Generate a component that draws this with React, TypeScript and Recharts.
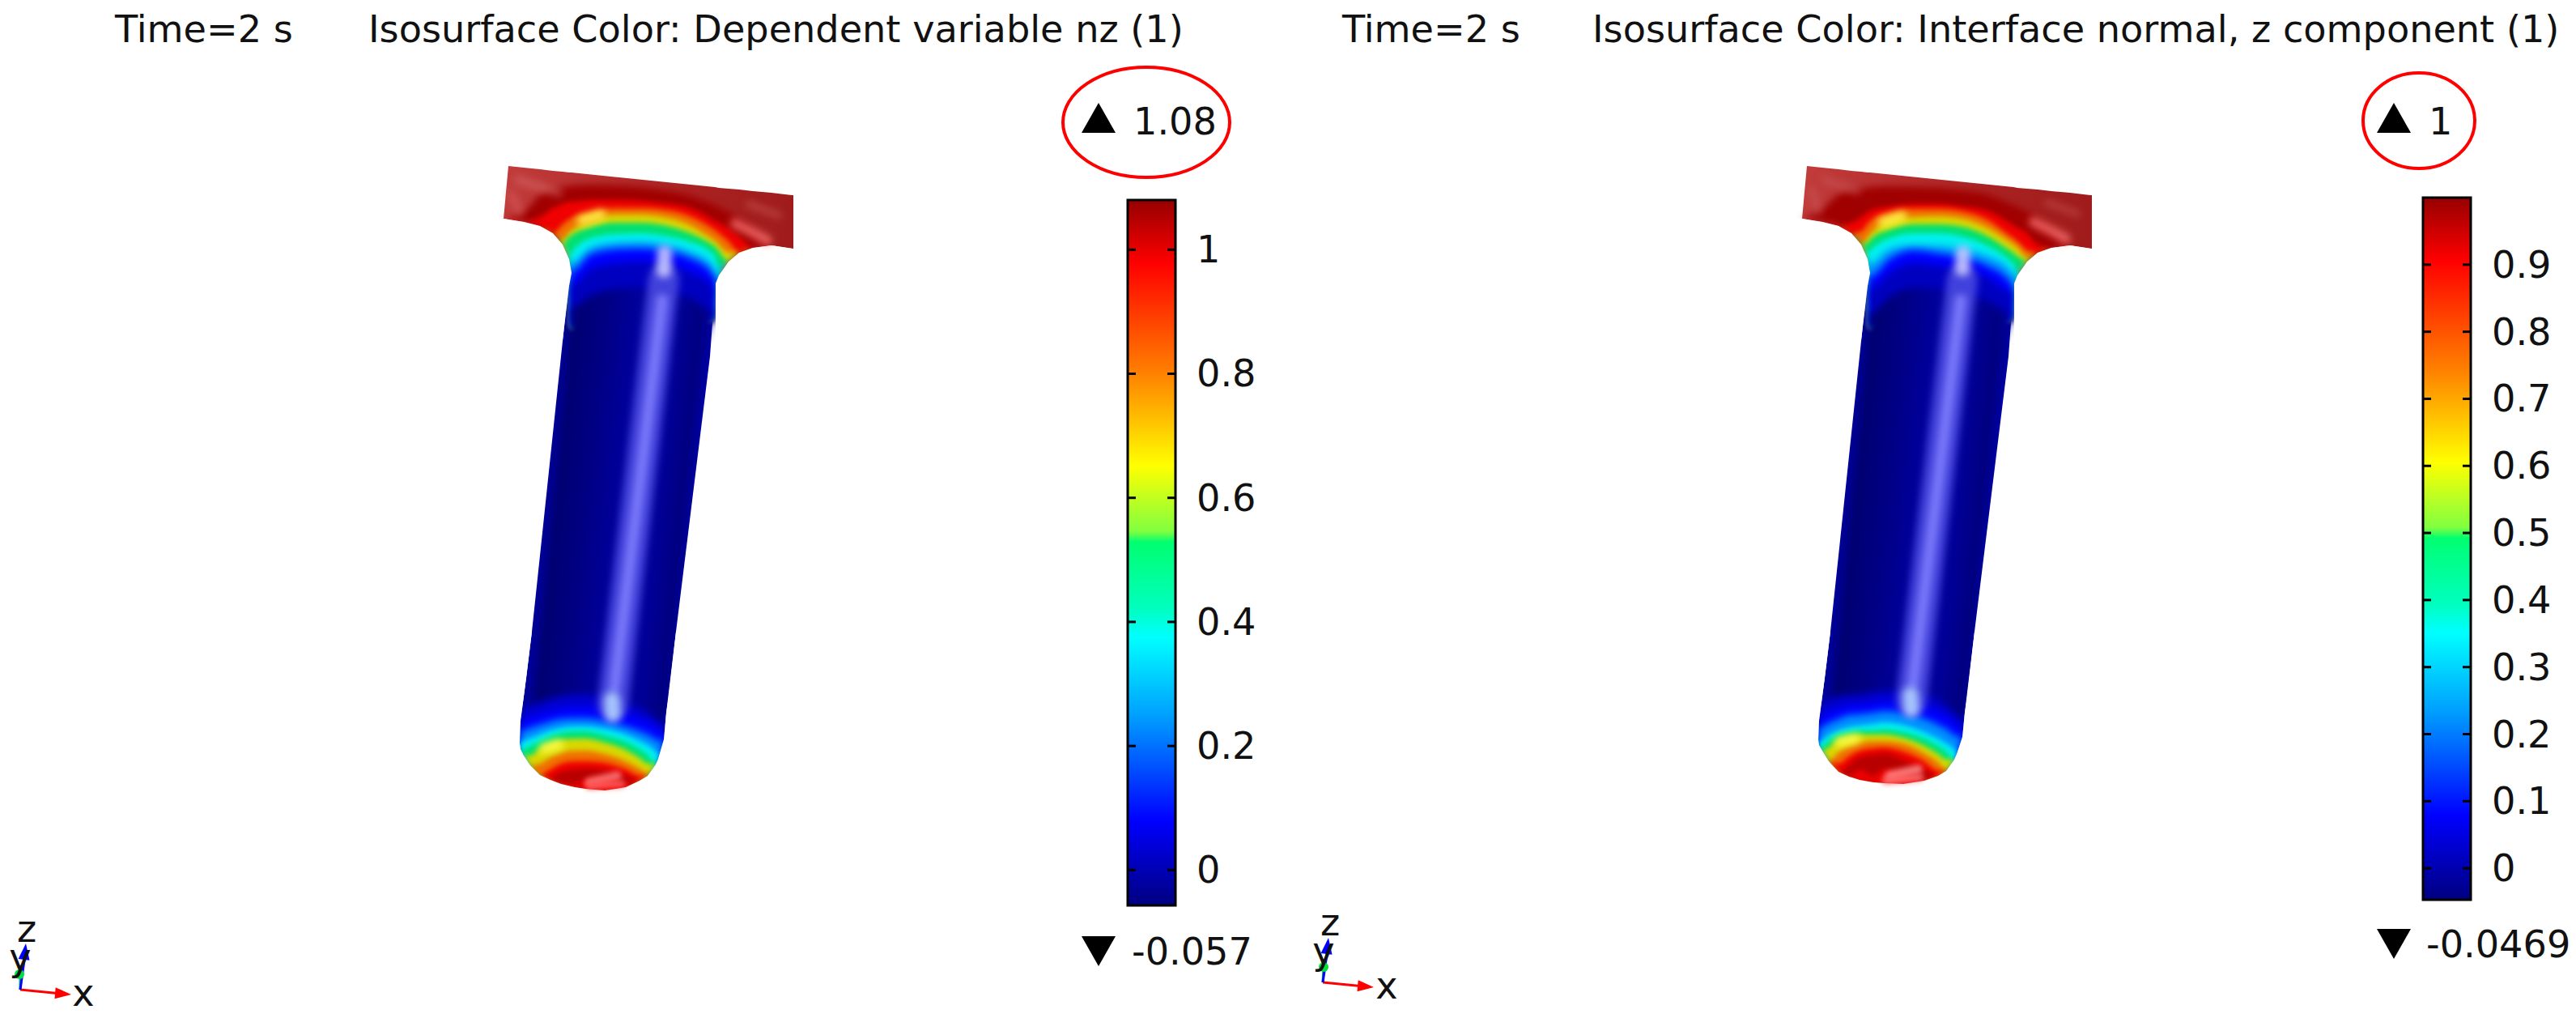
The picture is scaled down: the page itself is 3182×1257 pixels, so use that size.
import React from 'react';
import { Area, Bar, BarChart, ComposedChart, Line, Scatter, XAxis, YAxis } from 'recharts';

const FONT = '"DejaVu Sans", sans-serif';
const TEXT_SIZE = 46.2;

// colour scale, fraction from the top of the bar
const scaleStops = [
  [0, '#960000'], [0.09, '#ff0000'], [0.245, '#ff8000'], [0.377, '#ffff00'], [0.47, '#80ff40'],
  [0.485, '#00ff70'], [0.58, '#00ffc0'], [0.62, '#00ffff'], [0.73, '#00a0ff'], [0.88, '#0000ff'], [1, '#000080'],
] as const;

const ticksLeft = [0, 0.2, 0.4, 0.6, 0.8, 1];
const ticksRight = [0, 0.1, 0.2, 0.3, 0.4, 0.5, 0.6, 0.7, 0.8, 0.9];

// silhouette, panel pixels
const flangeX = [622, 628, 647, 667, 683, 695, 703, 706, 883, 888, 900, 913, 930, 953, 978, 980];
const flangeTop = [270, 205, 207, 209, 211, 212, 213, 213, 231, 232, 233, 234, 236, 238, 241, 241];
const flangeUnder = [270, 271, 274, 279, 288, 302, 320, 337, 357, 340, 323, 312, 306, 303, 307, 307];

const bodyX = [642, 643, 650, 657, 667, 680, 693, 698, 703, 706, 723, 747, 773, 790, 800, 813, 820, 823, 835, 877, 883];
const bodyTop = [917, 890, 837, 780, 686, 563, 440, 393, 353, 340, 340, 340, 340, 340, 340, 340, 340, 340, 340, 340, 340];
const bodyBottomL = [917, 925, 941, 950, 957, 963, 968, 969, 970, 971, 974, 976, 972, 964, 958, 937, 913, 880, 780, 440, 357];
const bodyBottomR = [913, 920, 934, 943, 953, 959, 963, 964, 965, 966, 967, 968, 964, 958, 952, 931, 910, 880, 780, 440, 357];

const neckX = [622, 647, 667, 683, 695, 703, 706, 730, 760, 790, 820, 850, 880, 883, 888, 900, 913, 930, 953, 980];
const neckFloor = [270, 274, 279, 288, 302, 320, 405, 383, 373, 371, 377, 387, 395, 357, 340, 323, 312, 306, 303, 307];
const neckFloorShade = [270, 274, 279, 288, 302, 320, 445, 445, 445, 445, 445, 445, 396, 357, 340, 323, 312, 306, 303, 307];

const neckColors = ['#a00000', '#f00000', '#f07000', '#d8d800', '#00e070', '#00f0f0', '#0090ff', '#0000ff', '#0000c0', 'url(#bodyShade)'];

const neckArcsL = [
  [280, 262, 241, 234, 231, 230, 229, 228, 229, 231, 235, 241, 252, 253, 256, 262, 271, 283, 302, 320],
  [290, 290, 268, 257, 252, 249, 249, 247, 247, 248, 251, 256, 271, 273, 275, 282, 292, 305, 320, 330],
  [300, 300, 300, 290, 277, 271, 269, 262, 257, 257, 259, 266, 282, 284, 288, 298, 311, 320, 320, 330],
  [310, 310, 310, 310, 296, 287, 284, 274, 265, 265, 268, 277, 295, 297, 302, 312, 325, 330, 330, 330],
  [320, 320, 320, 320, 305, 292, 290, 280, 275, 275, 278, 287, 302, 304, 310, 323, 330, 340, 340, 340],
  [330, 330, 330, 330, 330, 318, 312, 294, 289, 288, 291, 298, 313, 316, 330, 340, 340, 340, 340, 340],
  [350, 350, 350, 350, 350, 330, 325, 306, 300, 299, 302, 310, 328, 340, 350, 350, 350, 350, 350, 350],
  [360, 360, 360, 360, 360, 345, 336, 314, 308, 307, 310, 318, 338, 345, 360, 360, 360, 360, 360, 360],
  [380, 380, 380, 380, 380, 360, 352, 332, 325, 323, 327, 335, 353, 362, 380, 380, 380, 380, 380, 380],
  [410, 410, 410, 410, 410, 390, 380, 365, 357, 355, 360, 367, 383, 390, 410, 410, 410, 410, 410, 410],
];
const neckArcsR = [
  [280, 258, 240, 235, 233, 232, 231, 230, 231, 232, 235, 240, 252, 253, 256, 261, 270, 282, 302, 320],
  [295, 295, 285, 275, 268, 262, 260, 255, 252, 252, 255, 260, 276, 278, 281, 288, 302, 315, 320, 330],
  [305, 305, 305, 300, 286, 276, 273, 263, 258, 258, 261, 271, 292, 294, 298, 309, 320, 330, 330, 330],
  [310, 310, 310, 310, 302, 293, 289, 273, 268, 267, 270, 281, 300, 302, 306, 318, 330, 340, 340, 340],
  [320, 320, 320, 320, 320, 300, 296, 283, 277, 277, 280, 291, 310, 312, 316, 326, 340, 340, 340, 340],
  [330, 330, 330, 330, 330, 312, 309, 294, 288, 288, 292, 303, 323, 326, 336, 340, 340, 340, 340, 340],
  [350, 350, 350, 350, 350, 330, 326, 308, 303, 304, 308, 316, 335, 340, 350, 350, 350, 350, 350, 350],
  [360, 360, 360, 360, 360, 345, 342, 320, 309, 313, 318, 328, 350, 355, 360, 360, 360, 360, 360, 360],
  [380, 380, 380, 380, 380, 360, 356, 337, 325, 328, 333, 342, 360, 365, 380, 380, 380, 380, 380, 380],
  [410, 410, 410, 410, 410, 390, 387, 367, 355, 357, 362, 371, 387, 392, 410, 410, 410, 410, 410, 410],
];

const capX = [642, 643, 647, 655, 667, 680, 693, 710, 723, 747, 773, 790, 800, 810, 813, 820, 823];
const capFloorL = [917, 925, 933, 945, 957, 963, 968, 972, 974, 976, 972, 964, 958, 944, 937, 913, 880];
const capFloorR = [913, 920, 927, 940, 953, 959, 963, 966, 967, 968, 964, 958, 952, 938, 931, 910, 880];

const capColors = ['#0000d0', '#0000ff', '#0090ff', '#00f0f0', '#00e070', '#d8d800', '#f07000', '#f00000', '#b80000', '#ee0000'];

const capArcsL = [
  [917, 890, 874, 871, 867, 863, 860, 858, 858, 860, 867, 875, 880, 888, 890, 895, 900],
  [917, 892, 889, 886, 882, 878, 875, 873, 873, 875, 881, 887, 891, 897, 899, 905, 912],
  [917, 903, 902, 899, 895, 891, 888, 887, 887, 890, 897, 903, 907, 913, 915, 925, 930],
  [917, 917, 915, 912, 907, 902, 899, 897, 897, 900, 907, 915, 920, 928, 931, 945, 950],
  [930, 930, 925, 921, 915, 909, 905, 903, 903, 908, 916, 925, 932, 942, 945, 960, 960],
  [945, 945, 942, 933, 924, 918, 914, 912, 912, 917, 926, 936, 943, 953, 956, 970, 970],
  [975, 975, 970, 955, 943, 935, 930, 927, 927, 931, 940, 949, 955, 966, 970, 975, 975],
  [985, 985, 985, 980, 960, 950, 943, 940, 940, 942, 950, 958, 965, 975, 980, 985, 985],
  [990, 990, 990, 990, 975, 960, 953, 950, 949, 951, 958, 966, 975, 985, 990, 990, 990],
  [990, 990, 990, 990, 990, 985, 985, 968, 964, 963, 968, 990, 990, 990, 990, 990, 990],
];
const capArcsR = [
  [913, 890, 868, 864, 860, 858, 858, 855, 853, 853, 858, 865, 872, 880, 882, 888, 892],
  [913, 892, 883, 879, 875, 871, 870, 868, 866, 866, 872, 878, 884, 892, 894, 902, 908],
  [913, 900, 898, 893, 888, 883, 882, 880, 878, 880, 887, 895, 900, 908, 910, 920, 925],
  [917, 917, 914, 908, 902, 898, 896, 894, 892, 895, 904, 912, 918, 925, 928, 940, 945],
  [925, 925, 922, 914, 907, 904, 902, 902, 901, 904, 912, 921, 928, 938, 942, 955, 955],
  [935, 935, 930, 923, 913, 909, 907, 907, 907, 911, 921, 931, 938, 950, 954, 965, 965],
  [960, 960, 950, 940, 929, 921, 917, 915, 915, 918, 930, 941, 950, 965, 970, 975, 975],
  [985, 985, 975, 955, 943, 934, 927, 924, 923, 928, 940, 952, 962, 980, 985, 985, 985],
  [990, 990, 990, 980, 960, 945, 935, 932, 930, 938, 950, 990, 990, 990, 990, 990, 990],
  [990, 990, 990, 990, 975, 958, 950, 958, 950, 955, 985, 990, 990, 990, 990, 990, 990],
];

// white cover outside the outline, keeps the soft bands inside
const maskLeftX = [600, 622, 647, 667, 683, 695, 703, 706];
const maskLeftTop = [270, 270, 274, 279, 288, 302, 320, 337];
const maskLeftBottom = [420, 420, 420, 420, 420, 420, 353, 337];
const maskRightX = [884, 888, 900, 913, 930, 953, 980, 1000];
const maskRightTop = [350, 340, 323, 312, 306, 303, 307, 280];
const maskRightBottom = [470, 470, 470, 470, 470, 470, 470, 470];
const maskEdgeX = [620, 641, 642, 643, 650, 657];
const maskEdgeTop = [770, 770, 770, 770, 770, 770];
const maskEdgeBottom = [917, 917, 917, 890, 837, 780];
const maskCapX = [625, 641, 642, 643, 647, 655, 667, 680, 693, 710, 723, 747, 773, 790, 800, 810, 813, 820, 823, 826, 835, 850];
const maskCapTopL = [917, 917, 917, 925, 933, 945, 957, 963, 968, 972, 974, 976, 972, 964, 958, 944, 937, 913, 880, 860, 780, 780];
const maskCapTopR = [913, 913, 913, 920, 927, 940, 953, 959, 963, 966, 967, 968, 964, 958, 952, 938, 931, 910, 880, 860, 780, 780];
const maskCapBottom = 1010;

// glints on the surface: colour, width, opacity, blur class, then points
const glintsL = [
  { color: '#d87070', width: 10, opacity: 0.5, soft: 'soft5', xs: [640, 690], ys: [222, 238] },
  { color: '#d86060', width: 10, opacity: 0.5, soft: 'soft5', xs: [632, 642], ys: [240, 262] },
  { color: '#d06060', width: 8, opacity: 0.5, soft: 'soft5', xs: [925, 962], ys: [252, 266] },
  { color: '#ff7878', width: 12, opacity: 0.75, soft: 'soft5', xs: [908, 928, 948], ys: [276, 286, 297] },
  { color: '#ffff50', width: 13, opacity: 0.85, soft: 'soft5', xs: [719, 742], ys: [272, 265] },
  { color: '#4848e0', width: 38, opacity: 0.9, soft: 'soft5', xs: [820, 757], ys: [345, 870] },
  { color: '#8080ff', width: 14, opacity: 0.9, soft: 'soft5', xs: [818, 759], ys: [370, 850] },
  { color: '#c8c8ff', width: 18, opacity: 0.9, soft: 'soft5', xs: [821, 820], ys: [312, 334] },
  { color: '#b0d0ff', width: 20, opacity: 0.9, soft: 'soft5', xs: [756, 757], ys: [864, 882] },
];
const glintsR = [
  { color: '#c85858', width: 10, opacity: 0.5, soft: 'soft5', xs: [650, 690], ys: [222, 236] },
  { color: '#c85858', width: 10, opacity: 0.5, soft: 'soft5', xs: [634, 642], ys: [235, 260] },
  { color: '#c85858', width: 8, opacity: 0.5, soft: 'soft5', xs: [925, 962], ys: [250, 264] },
  { color: '#ff7878', width: 12, opacity: 0.75, soft: 'soft5', xs: [908, 928, 948], ys: [274, 284, 295] },
  { color: '#ffff50', width: 13, opacity: 0.85, soft: 'soft5', xs: [722, 745], ys: [274, 267] },
  { color: '#4848e0', width: 38, opacity: 0.9, soft: 'soft5', xs: [820, 757], ys: [345, 865] },
  { color: '#8080ff', width: 14, opacity: 0.9, soft: 'soft5', xs: [818, 759], ys: [370, 845] },
  { color: '#c8c8ff', width: 18, opacity: 0.9, soft: 'soft5', xs: [821, 820], ys: [312, 332] },
  { color: '#b0d0ff', width: 20, opacity: 0.9, soft: 'soft5', xs: [756, 757], ys: [858, 876] },
];
const capGlintsL = [
  { color: '#ffff50', width: 13, opacity: 0.85, soft: 'soft5', xs: [672, 690], ys: [924, 919] },
  { color: '#ff7070', width: 12, opacity: 0.9, soft: 'soft3', xs: [728, 762], ys: [966, 958] },
  { color: '#ff5a5a', width: 9, opacity: 0.9, soft: 'soft3', xs: [728, 768], ys: [970, 968] },
];
const capGlintsR = [
  { color: '#ffff50', width: 13, opacity: 0.85, soft: 'soft5', xs: [668, 688], ys: [916, 912] },
  { color: '#ff8080', width: 12, opacity: 0.9, soft: 'soft3', xs: [730, 765], ys: [958, 950] },
  { color: '#ff7070', width: 9, opacity: 0.9, soft: 'soft3', xs: [725, 768], ys: [964, 960] },
];

// page annotations, page pixels
const captions = [
  { x: 142, y: 52, label: 'Time=2 s' },
  { x: 455, y: 52, label: 'Isosurface Color: Dependent variable nz (1)' },
  { x: 1658, y: 52, label: 'Time=2 s' },
  { x: 1967, y: 52, label: 'Isosurface Color: Interface normal, z component (1)' },
  { x: 1400, y: 166, label: '1.08' },
  { x: 1398, y: 1191, label: '-0.057' },
  { x: 3000, y: 166, label: '1' },
  { x: 2997, y: 1182, label: '-0.0469' },
];
const triadLabels = [
  { x: 33, y: 1163, label: 'z' },
  { x: 25, y: 1198, label: 'y' },
  { x: 103, y: 1242, label: 'x' },
  { x: 1643, y: 1155, label: 'z' },
  { x: 1635, y: 1190, label: 'y' },
  { x: 1713, y: 1233, label: 'x' },
];
const trianglesUp = [{ x: 1357, y: 127 }, { x: 2957, y: 127 }];
const trianglesDown = [{ x: 1357, y: 1193 }, { x: 2957, y: 1184 }];
const rings = [
  { x: 1416, y: 151, rx: 103, ry: 68 },
  { x: 2988, y: 149, rx: 69, ry: 59 },
];
const triadLines = [
  { color: '#00c060', xs: [25, 25], ys: [1222, 1203] },
  { color: '#ff0000', xs: [25, 76], ys: [1222, 1227] },
  { color: '#0000ff', xs: [25, 31], ys: [1222, 1178] },
  { color: '#00c060', xs: [1634, 1635], ys: [1213, 1194] },
  { color: '#ff0000', xs: [1634, 1685], ys: [1213, 1218] },
  { color: '#0000ff', xs: [1634, 1640], ys: [1213, 1171] },
];
const arrowHeads = [
  { x: 88, y: 1228, angle: 95, color: '#ff0000' },
  { x: 32, y: 1165, angle: 7, color: '#0000ff' },
  { x: 1697, y: 1219, angle: 95, color: '#ff0000' },
  { x: 1641, y: 1158, angle: 7, color: '#0000ff' },
];
const greenDots = [{ x: 24, y: 1203 }, { x: 1635, y: 1194 }];

const range = (xs: number[], top: number[], bottom: number[]) =>
  xs.map((x, i) => ({ x, range: [Math.min(top[i], bottom[i]), bottom[i]] }));
const trace = (xs: number[], ys: number[]) => xs.map((x, i) => ({ x, y: ys[i] }));

const hidden = (w: number, h: number) => [
  <XAxis key="x" hide type="number" dataKey="x" domain={[0, w]} allowDataOverflow />,
  <YAxis key="y" hide reversed type="number" dataKey="y" domain={[0, h]} allowDataOverflow />,
];

const Glints = (items: typeof glintsL, prefix: string) =>
  items.map((g, i) => (
    <Line key={prefix + i} data={trace(g.xs, g.ys)} dataKey="y" type="linear" className={g.soft} stroke={g.color}
      strokeWidth={g.width} strokeOpacity={g.opacity} strokeLinecap="round" dot={false} activeDot={false} isAnimationActive={false} />
  ));

const Cover = (data: any[], key: string) => (
  <Area key={key} data={data} dataKey="range" type="linear" fill="#fff" fillOpacity={1} stroke="none" dot={false} activeDot={false} isAnimationActive={false} />
);

const Part = ({ left, neckArcs, capArcs, capFloor, bodyBottom, maskCapTop, glints, capGlints }: any) => (
  <div style={{ position: 'absolute', left, top: 0 }}>
    <ComposedChart width={1060} height={1257} margin={{ top: 0, right: 0, bottom: 0, left: 0 }}>
      <defs>
        <linearGradient id={`flange${left}`} x1="0" y1="0" x2="1" y2="0">
          <stop offset="0" stopColor="#c23c3c" />
          <stop offset="0.3" stopColor="#b83030" />
          <stop offset="0.65" stopColor="#aa2222" />
          <stop offset="1" stopColor="#a01c1c" />
        </linearGradient>
        <linearGradient id="bodyShade" gradientUnits="userSpaceOnUse" x1="673" y1="641" x2="857" y2="659">
          <stop offset="0" stopColor="#000098" />
          <stop offset="0.08" stopColor="#000072" />
          <stop offset="0.3" stopColor="#000088" />
          <stop offset="0.5" stopColor="#00009e" />
          <stop offset="0.75" stopColor="#000098" />
          <stop offset="0.9" stopColor="#000080" />
          <stop offset="1" stopColor="#0000a8" />
        </linearGradient>
      </defs>
      {hidden(1060, 1257)}
      <Area data={range(bodyX, bodyTop, bodyBottom)} dataKey="range" type="linear" fill="url(#bodyShade)" fillOpacity={1} stroke="none" dot={false} activeDot={false} isAnimationActive={false} />
      <Area data={range(flangeX, flangeTop, flangeUnder)} dataKey="range" type="linear" fill={`url(#flange${left})`} fillOpacity={1} stroke="none" dot={false} activeDot={false} isAnimationActive={false} />
      {neckArcs.map((arc: number[], i: number) => (
        <Area key={i} data={range(neckX, arc, i === neckArcs.length - 1 ? neckFloorShade : neckFloor)} dataKey="range" type="monotone"
          className={i >= 6 || i === 0 ? 'soft5' : 'soft3'} fill={neckColors[i]} fillOpacity={1} stroke="none" dot={false} activeDot={false} isAnimationActive={false} />
      ))}
      {capArcs.map((arc: number[], i: number) => (
        <Area key={i} data={range(capX, arc, capFloor)} dataKey="range" type="monotone" className={i <= 2 ? 'soft5' : 'soft3'}
          fill={capColors[i]} fillOpacity={1} stroke="none" dot={false} activeDot={false} isAnimationActive={false} />
      ))}
      {Glints(glints, 'g')}
      {Glints(capGlints, 'c')}
      {Cover(range(maskLeftX, maskLeftTop, maskLeftBottom), 'maskLeft')}
      {Cover(range(maskRightX, maskRightTop, maskRightBottom), 'maskRight')}
      {Cover(range(maskEdgeX, maskEdgeTop, maskEdgeBottom), 'maskEdge')}
      {Cover(range(maskCapX, maskCapTop, maskCapX.map(() => maskCapBottom)), 'maskCap')}
    </ComposedChart>
  </div>
);

const ScaleBar = ({ id, left, top, height, min, max, ticks }: any) => {
  const Tick = ({ x, y, payload }: any) => (
    <g>
      <line x1={x - 59} x2={x - 49} y1={y} y2={y} stroke="#000" strokeWidth={3} />
      <line x1={x - 10} x2={x} y1={y} y2={y} stroke="#000" strokeWidth={3} />
      <text x={x + 26} y={y + 16} fontFamily={FONT} fontSize={TEXT_SIZE} fill="#111">{payload.value}</text>
    </g>
  );
  return (
    <div style={{ position: 'absolute', left: left - 4, top: top - 4 }}>
      <BarChart width={189} height={height + 8} data={[{ name: 'scale', span: [min, max] }]} barCategoryGap={0} margin={{ top: 4, right: 4, bottom: 4, left: 4 }}>
        <defs>
          <linearGradient id={id} x1="0" y1="0" x2="0" y2="1">
            {scaleStops.map(([offset, color]) => <stop key={offset} offset={offset} stopColor={color} />)}
          </linearGradient>
        </defs>
        <XAxis hide dataKey="name" />
        <YAxis orientation="right" type="number" width={122} domain={[min, max]} ticks={ticks} interval={0} axisLine={false} tickLine={false} tickSize={0} tickMargin={0} tick={<Tick />} />
        <Bar dataKey="span" fill={`url(#${id})`} stroke="#000" strokeWidth={3} isAnimationActive={false} />
      </BarChart>
    </div>
  );
};

const Caption = ({ cx, cy, payload, anchor }: any) => (
  <text x={cx} y={cy} textAnchor={anchor} fontFamily={FONT} fontSize={TEXT_SIZE} fill="#111">{payload.label}</text>
);

export default function App() {
  return (
    <div style={{ position: 'absolute', left: 0, top: 0, width: 3182, height: 1257, background: '#fff', overflow: 'hidden' }}>
      <style>{'.soft3{filter:blur(3px)}.soft5{filter:blur(5px)}'}</style>
      <Part left={0} neckArcs={neckArcsL} capArcs={capArcsL} capFloor={capFloorL} bodyBottom={bodyBottomL} maskCapTop={maskCapTopL} glints={glintsL} capGlints={capGlintsL} />
      <Part left={1604} neckArcs={neckArcsR} capArcs={capArcsR} capFloor={capFloorR} bodyBottom={bodyBottomR} maskCapTop={maskCapTopR} glints={glintsR} capGlints={capGlintsR} />
      <ScaleBar id="scaleL" left={1393} top={247} height={871} min={-0.057} max={1.08} ticks={ticksLeft} />
      <ScaleBar id="scaleR" left={2993} top={244} height={867} min={-0.0469} max={1} ticks={ticksRight} />
      <div style={{ position: 'absolute', left: 0, top: 0 }}>
        <ComposedChart width={3182} height={1257} margin={{ top: 0, right: 0, bottom: 0, left: 0 }}>
          {hidden(3182, 1257)}
          {triadLines.map((l, i) => (
            <Line key={i} data={trace(l.xs, l.ys)} dataKey="y" type="linear" stroke={l.color} strokeWidth={3} dot={false} activeDot={false} isAnimationActive={false} />
          ))}
          <Scatter data={greenDots} isAnimationActive={false} shape={({ cx, cy }: any) => <circle cx={cx} cy={cy} r={6} fill="#00e040" />} />
          <Scatter data={arrowHeads} isAnimationActive={false} shape={({ cx, cy, payload }: any) => (
            <polygon points={`${cx},${cy} ${cx - 7},${cy + 20} ${cx + 7},${cy + 20}`} fill={payload.color} transform={`rotate(${payload.angle} ${cx} ${cy})`} />
          )} />
          <Scatter data={trianglesUp} isAnimationActive={false} shape={({ cx, cy }: any) => (
            <polygon points={`${cx},${cy} ${cx - 21},${cy + 37} ${cx + 21},${cy + 37}`} fill="#000" />
          )} />
          <Scatter data={trianglesDown} isAnimationActive={false} shape={({ cx, cy }: any) => (
            <polygon points={`${cx},${cy} ${cx - 21},${cy - 37} ${cx + 21},${cy - 37}`} fill="#000" />
          )} />
          <Scatter data={rings} isAnimationActive={false} shape={({ cx, cy, payload }: any) => (
            <ellipse cx={cx} cy={cy} rx={payload.rx} ry={payload.ry} fill="none" stroke="#ff0000" strokeWidth={4} />
          )} />
          <Scatter data={captions} isAnimationActive={false} shape={(p: any) => <Caption {...p} anchor="start" />} />
          <Scatter data={triadLabels} isAnimationActive={false} shape={(p: any) => <Caption {...p} anchor="middle" />} />
        </ComposedChart>
      </div>
    </div>
  );
}
